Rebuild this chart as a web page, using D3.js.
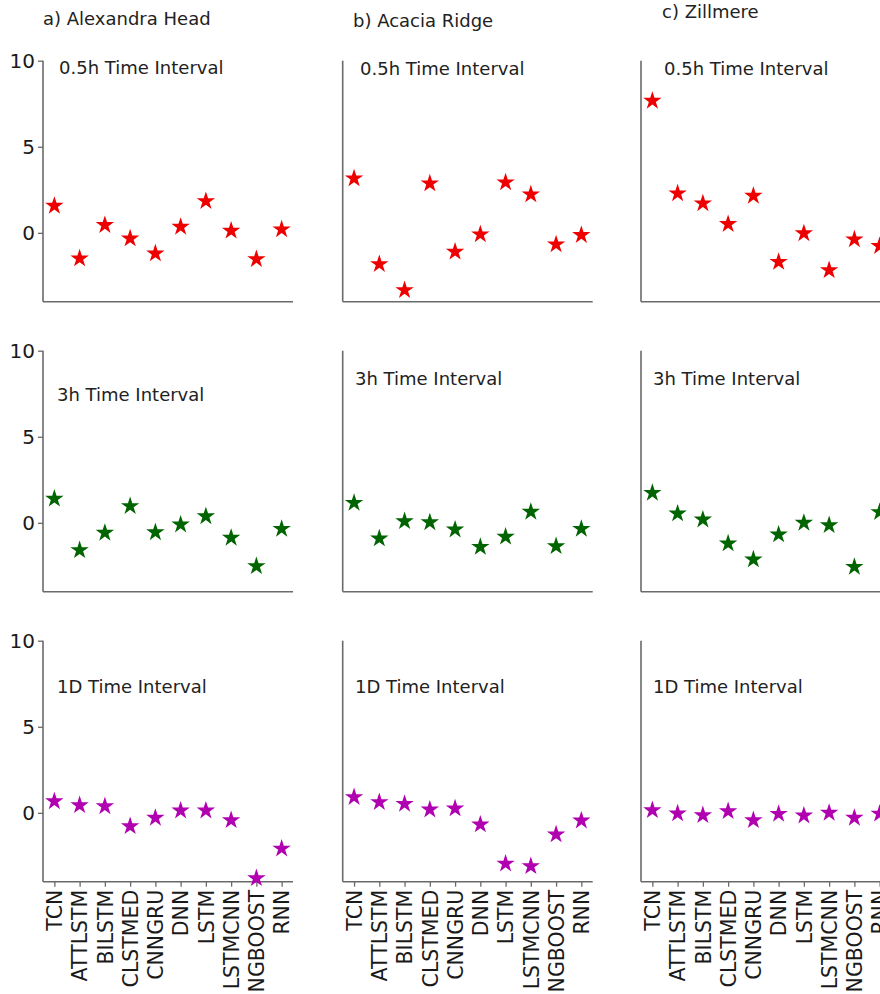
<!DOCTYPE html>
<html>
<head>
<meta charset="utf-8">
<script src="https://cdn.jsdelivr.net/npm/d3@7"></script>
<style>
  html, body { margin: 0; padding: 0; background: #fff; }
  svg { display: block; font-family: "DejaVu Sans", sans-serif; }
</style>
</head>
<body>
<svg id="chart" width="880" height="994"></svg>
<script>
// ---- data ----
const models = ["TCN", "ATTLSTM", "BILSTM", "CLSTMED", "CNNGRU", "DNN", "LSTM", "LSTMCNN", "NGBOOST", "RNN"];
const sites = ["a) Alexandra Head", "b) Acacia Ridge", "c) Zillmere"];
const intervals = ["0.5h Time Interval", "3h Time Interval", "1D Time Interval"];
const yTicks = [0, 5, 10];

// Alexandra Head
const alexandra05h = [1.57, -1.49, 0.45, -0.33, -1.20, 0.35, 1.84, 0.12, -1.53, 0.20];
const alexandra3h  = [1.40, -1.59, -0.58, 0.97, -0.55, -0.10, 0.38, -0.87, -2.52, -0.35];
const alexandra1D  = [0.67, 0.44, 0.38, -0.78, -0.29, 0.13, 0.13, -0.43, -3.80, -2.08];
// Acacia Ridge
const acacia05h = [3.16, -1.82, -3.33, 2.87, -1.10, -0.09, 2.93, 2.23, -0.67, -0.13];
const acacia3h  = [1.16, -0.91, 0.09, 0.03, -0.39, -1.40, -0.81, 0.64, -1.36, -0.35];
const acacia1D  = [0.91, 0.62, 0.52, 0.19, 0.25, -0.68, -2.95, -3.10, -1.26, -0.45];
// Zillmere
const zillmere05h = [7.67, 2.29, 1.71, 0.51, 2.15, -1.69, -0.03, -2.17, -0.38, -0.77];
const zillmere3h  = [1.74, 0.54, 0.19, -1.20, -2.13, -0.68, 0.00, -0.14, -2.56, 0.62];
const zillmere1D  = [0.15, -0.04, -0.14, 0.09, -0.43, -0.06, -0.16, 0.00, -0.29, -0.05];

const seriesGrid = [
  [alexandra05h, acacia05h, zillmere05h],
  [alexandra3h, acacia3h, zillmere3h],
  [alexandra1D, acacia1D, zillmere1D]
];
const rowColors = ["#ee0000", "#006400", "#b000b0"];

// ---- layout ----
const colX = [43, 342.7, 641];
const rowTop = [60.7, 350.7, 640.7];
const plotW = 250, plotH = 241;
const titlePos = [[43, 25], [353, 27], [662, 18]];
const annPos = [
  [[59, 74], [360, 75], [664, 75]],
  [[57, 401], [355, 385], [653, 385]],
  [[57, 693], [355, 693], [653, 693]]
];

const svg = d3.select("#chart");
const axisColor = "#6a6a6a";

// column titles
sites.forEach((s, c) => {
  svg.append("text")
    .attr("x", titlePos[c][0]).attr("y", titlePos[c][1])
    .attr("font-size", 18).attr("fill", "#222")
    .text(s);
});

const star = d3.symbol().type(d3.symbolStar).size(105);

seriesGrid.forEach((row, r) => {
  row.forEach((vals, c) => {
    const g = svg.append("g").attr("transform", `translate(${colX[c]},${rowTop[r]})`);
    const x = d3.scalePoint().domain(models).range([0, plotW]).padding(0.45);
    const y = d3.scaleLinear().domain([-4, 10]).range([plotH, 0]);

    // left spine (+ ticks in left column)
    const ya = g.append("g").call(
      d3.axisLeft(y).tickValues(c === 0 ? yTicks : []).tickSize(c === 0 ? 5 : 0).tickPadding(3).tickFormat(d3.format("d"))
    );
    ya.select(".domain").attr("d", `M0,0V${plotH}`).attr("stroke", axisColor).attr("stroke-width", 1.6);
    ya.selectAll(".tick line").attr("stroke", axisColor).attr("stroke-width", 1.3);
    ya.selectAll(".tick text").attr("font-size", 20).attr("fill", "#1a1a1a").attr("font-family", "DejaVu Sans, sans-serif");

    // bottom spine (+ tick labels in bottom row)
    const xa = g.append("g").attr("transform", `translate(0,${plotH})`).call(
      d3.axisBottom(x).tickSize(r === 2 ? 5 : 0).tickPadding(4)
    );
    xa.select(".domain").attr("d", `M0,0H${plotW}`).attr("stroke", axisColor).attr("stroke-width", 1.6);
    xa.selectAll(".tick line").attr("stroke", axisColor).attr("stroke-width", 1.3);
    if (r === 2) {
      xa.selectAll(".tick text")
        .attr("font-size", 20.5).attr("fill", "#1a1a1a").attr("font-family", "DejaVu Sans, sans-serif")
        .attr("transform", "rotate(-90)")
        .attr("text-anchor", "end")
        .attr("dy", "0.35em").attr("x", -8).attr("y", 0);
    } else {
      xa.selectAll(".tick text").remove();
    }

    // annotation
    svg.append("text")
      .attr("x", annPos[r][c][0]).attr("y", annPos[r][c][1])
      .attr("font-size", 18).attr("fill", "#222")
      .text(intervals[r]);

    // stars
    g.selectAll("path.star").data(vals).enter().append("path")
      .attr("class", "star")
      .attr("d", star)
      .attr("transform", (d, i) => `translate(${x(models[i])},${y(d)})`)
      .attr("fill", rowColors[r]);
  });
});
</script>
</body>
</html>
